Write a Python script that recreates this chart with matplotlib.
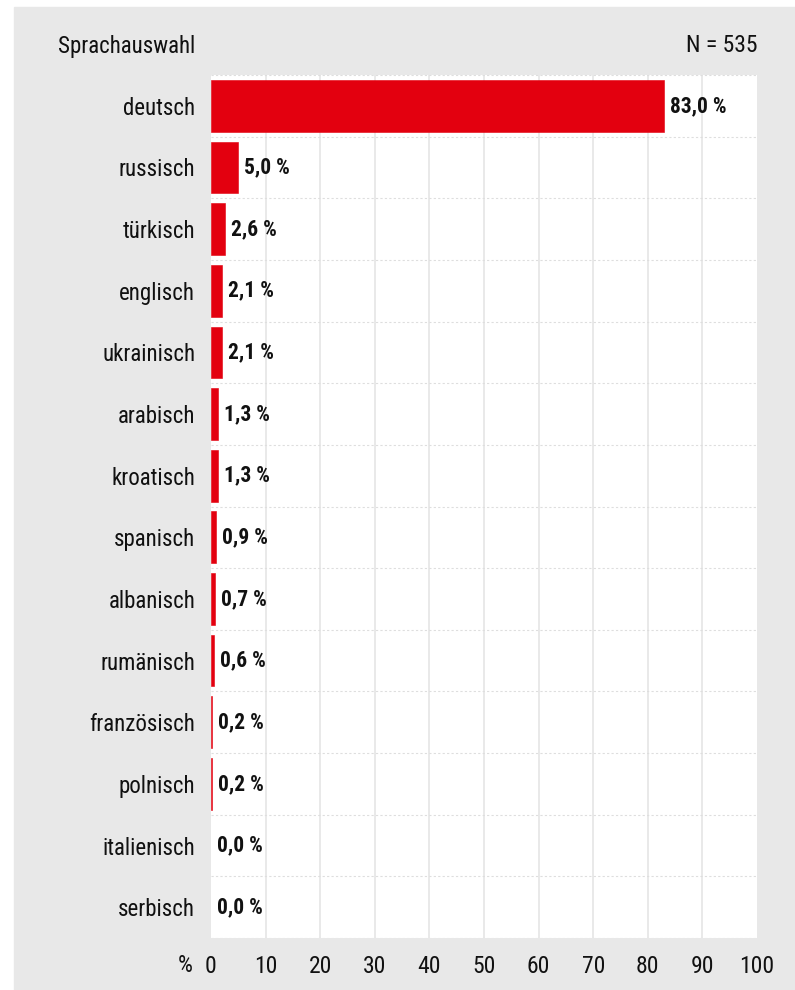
import matplotlib.pyplot as plt
from matplotlib.patches import Rectangle

# Sprachauswahl, Anteile in Prozent
sprachen = ['deutsch', 'russisch', 'türkisch', 'englisch', 'ukrainisch', 'arabisch',
            'kroatisch', 'spanisch', 'albanisch', 'rumänisch', 'französisch',
            'polnisch', 'italienisch', 'serbisch']
anteile = [83.0, 5.0, 2.6, 2.1, 2.1, 1.3, 1.3, 0.9, 0.7, 0.6, 0.2, 0.2, 0.0, 0.0]
ticks = [0, 10, 20, 30, 40, 50, 60, 70, 80, 90, 100]
n_gesamt = 535

plt.rcParams['font.family'] = ['Roboto Condensed', 'Archivo Narrow', 'DejaVu Sans']
rot = '#e3000f'
grau = '#e8e8e8'
schrift = '#111111'

fig = plt.figure(figsize=(7.95, 9.9), dpi=100)
W, H = 795, 990

# grauer Hintergrund mit weissem Rand oben/links
fig.patches.append(Rectangle((14 / W, 0), 1 - 14 / W, 1 - 7 / H,
                             transform=fig.transFigure, color=grau, zorder=-5))

ax = fig.add_axes([211 / W, 1 - 938 / H, (757 - 211) / W, (938 - 75) / H])
ax.set_facecolor('white')
n = len(sprachen)
y = list(range(n))
# duenne Kontur, damit auch 0,2 % noch sichtbar bleibt; 0 % ohne Kontur
ax.barh(y, anteile, height=0.84, color=rot, edgecolor=rot,
        linewidth=[0.4 if v > 0 else 0 for v in anteile], zorder=3)
ax.set_xlim(0, 100)
ax.set_ylim(n - 0.5, -0.5)

for xv in ticks[1:-1]:
    ax.axvline(xv, color='#e9e9e9', lw=1.4, zorder=1)
for i in range(n + 1):
    ax.axhline(i - 0.5, color='#dedede', lw=0.8, ls=(0, (2, 2)), zorder=1)

for i, v in enumerate(anteile):
    ax.text(v + 1.1, i, f'{v:.1f} %'.replace('.', ','), va='center', ha='left',
            fontsize=15.5, fontweight='bold', color=schrift, zorder=4)

ax.set_yticks(y)
ax.set_yticklabels(sprachen, fontsize=16.5, color=schrift)
ax.set_xticks(ticks)
ax.set_xticklabels([str(t) for t in ticks], fontsize=17, color=schrift)
ax.tick_params(axis='y', length=0, pad=11.5)
ax.tick_params(axis='x', length=0, pad=12)
for s in ax.spines.values():
    s.set_visible(False)

fig.text(195 / W, 1 - 46 / H, 'Sprachauswahl', ha='right', va='center',
         fontsize=16.5, color=schrift)
fig.text(758 / W, 1 - 46 / H, f'N = {n_gesamt}', ha='right', va='center',
         fontsize=17, color=schrift)
fig.text(193 / W, 1 - 965 / H, '%', ha='right', va='center',
         fontsize=17, color=schrift)

fig.savefig('out.png', dpi=100)
